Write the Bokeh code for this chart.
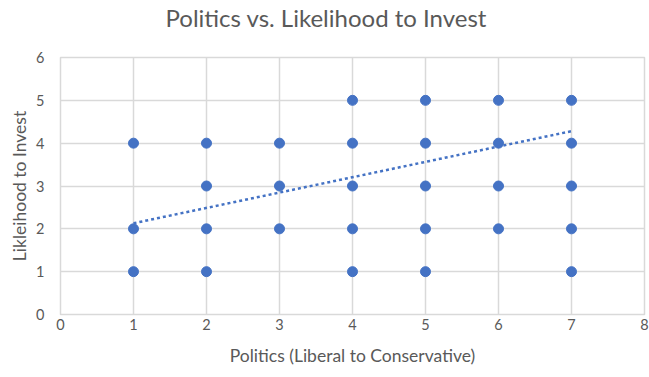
from bokeh.plotting import figure
from bokeh.models import Range1d, FixedTicker, Title
from bokeh.embed import file_html
from bokeh.resources import INLINE

# Survey responses: political position (1-7) vs. likelihood to invest (1-5)
politics = [1, 1, 1,
            2, 2, 2, 2,
            3, 3, 3,
            4, 4, 4, 4, 4,
            5, 5, 5, 5, 5,
            6, 6, 6, 6,
            7, 7, 7, 7, 7]
likelihood = [1, 2, 4,
              1, 2, 3, 4,
              2, 3, 4,
              1, 2, 3, 4, 5,
              1, 2, 3, 4, 5,
              2, 3, 4, 5,
              1, 2, 3, 4, 5]

# Linear trendline endpoints
trend_x = [1, 7]
trend_y = [2.13, 4.28]

x_ticks = [0, 1, 2, 3, 4, 5, 6, 7, 8]
y_ticks = [0, 1, 2, 3, 4, 5, 6]

FONT = "Lato"
TEXT = "#595959"
GRID = "#d9d9d9"
BLUE = "#4472C4"

p = figure(width=649, height=377, output_backend="svg", toolbar_location=None,
           x_range=Range1d(0, 8), y_range=Range1d(0, 6),
           min_border_left=60, min_border_right=5,
           min_border_top=57, min_border_bottom=63,
           frame_width=584, frame_height=257)

# Blank gap between the plotting area and the title
p.add_layout(Title(text=" ", text_font_size="1px", standoff=23), "above")

p.title = Title(text="Politics vs. Likelihood to Invest", align="left",
                text_font=FONT, text_font_size="24px", text_font_style="normal",
                text_color=TEXT, offset=105, standoff=0)

p.outline_line_color = GRID
p.outline_line_width = 1.5
p.background_fill_color = "white"
p.border_fill_color = "white"

for ax in (p.xaxis[0], p.yaxis[0]):
    ax.axis_line_color = None
    ax.major_tick_line_color = None
    ax.minor_tick_line_color = None
    ax.major_tick_out = 0
    ax.major_tick_in = 0
    ax.minor_tick_out = 0
    ax.major_label_text_font = FONT
    ax.major_label_text_font_size = "14.5px"
    ax.major_label_text_color = TEXT
    ax.axis_label_text_font = FONT
    ax.axis_label_text_font_size = "17.5px"
    ax.axis_label_text_font_style = "normal"
    ax.axis_label_text_color = TEXT

p.xaxis.ticker = FixedTicker(ticks=x_ticks)
p.yaxis.ticker = FixedTicker(ticks=y_ticks)
p.xaxis.axis_label = "Politics (Liberal to Conservative)"
p.yaxis.axis_label = "Likleihood to Invest"
p.xaxis.major_label_standoff = 4
p.yaxis.major_label_standoff = 16
p.xaxis.axis_label_standoff = 12
p.yaxis.axis_label_standoff = 3

p.xgrid.ticker = FixedTicker(ticks=x_ticks)
p.ygrid.ticker = FixedTicker(ticks=y_ticks)
for g in (p.xgrid[0], p.ygrid[0]):
    g.grid_line_color = GRID
    g.grid_line_width = 1.5

p.scatter(politics, likelihood, size=10, fill_color=BLUE, line_color=BLUE, line_width=1)
p.line(trend_x, trend_y, line_color=BLUE, line_width=2.5, line_dash="3 3")

open("out.html", "w").write(file_html(p, INLINE))
